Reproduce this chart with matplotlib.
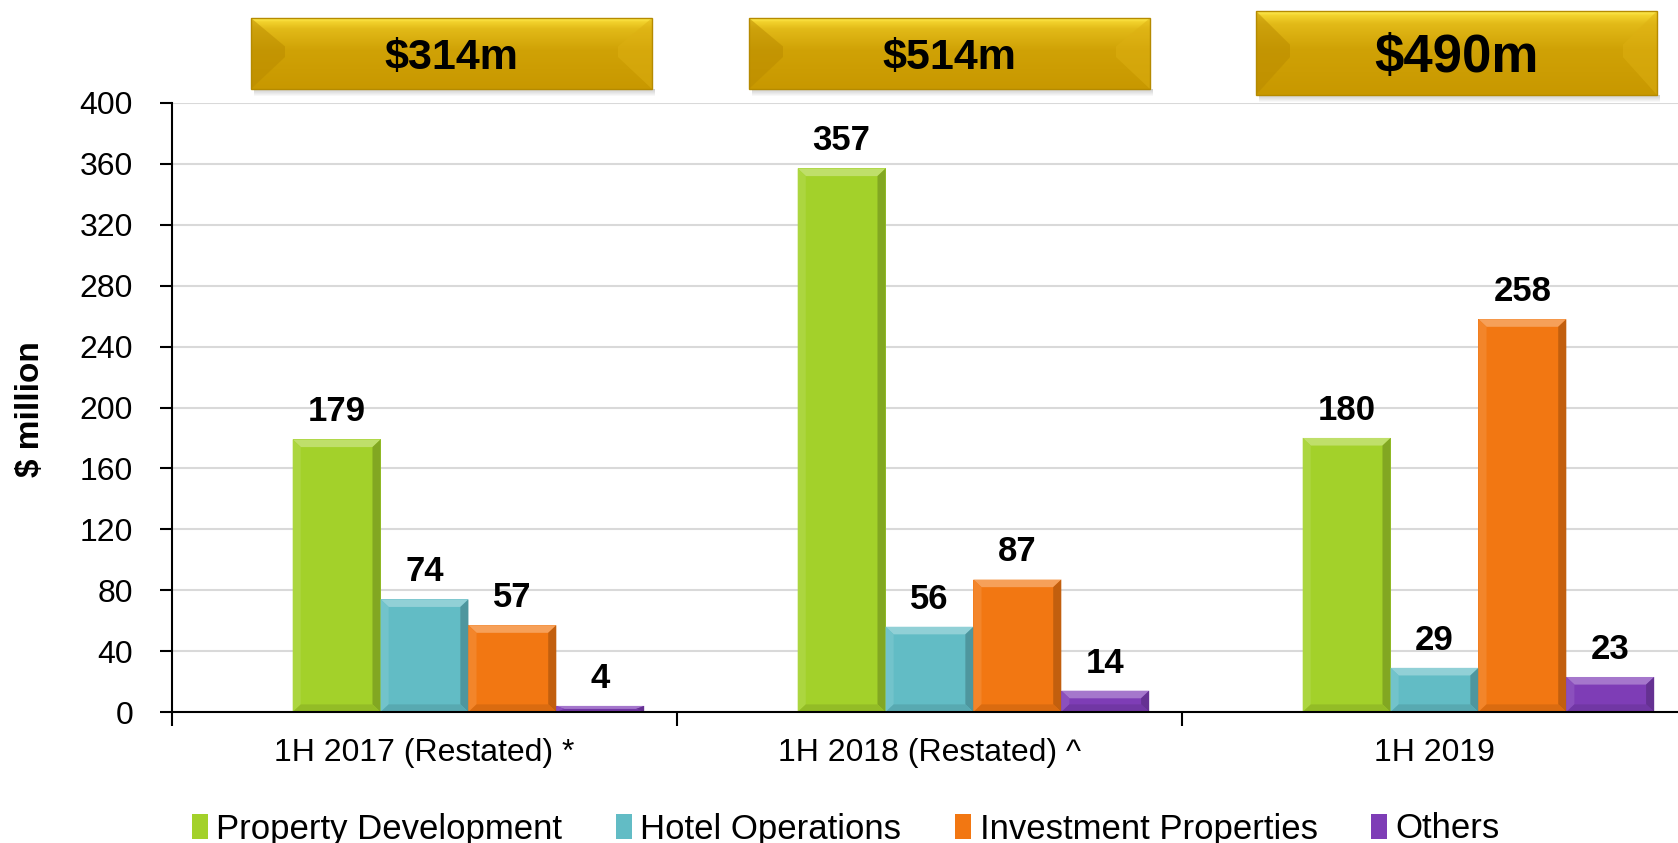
import numpy as np
import matplotlib.pyplot as plt
from matplotlib.patches import Polygon, Rectangle
from matplotlib.colors import to_rgb

plt.rcParams['font.family'] = ['Liberation Sans', 'DejaVu Sans']

# data
categories = ['1H 2017 (Restated) *', '1H 2018 (Restated) ^', '1H 2019']
series = ['Property Development', 'Hotel Operations', 'Investment Properties', 'Others']
property_dev = [179, 357, 180]
hotel_ops = [74, 56, 29]
investment = [57, 87, 258]
others = [4, 14, 23]
totals = [314, 514, 490]
yticks = list(range(0, 401, 40))

colors = ['#A3D12A', '#62BCC5', '#F27712', '#7E3DB6']


def shade(c, f):
    c = np.array(to_rgb(c))
    if f > 0:
        return tuple(c + (1 - c) * f)
    return tuple(c * (1 + f))


def bevel(ax, b, col):
    x0, y0 = b.get_x(), b.get_y()
    x1, y1 = x0 + b.get_width(), y0 + b.get_height()
    bx = 0.016
    by = min(5, (y1 - y0) / 2)
    polys = [
        ([(x0, y1), (x1, y1), (x1 - bx, y1 - by), (x0 + bx, y1 - by)], shade(col, 0.3)),
        ([(x0, y0), (x0, y1), (x0 + bx, y1 - by), (x0 + bx, y0 + by)], shade(col, 0.1)),
        ([(x1, y0), (x1, y1), (x1 - bx, y1 - by), (x1 - bx, y0 + by)], shade(col, -0.2)),
        ([(x0, y0), (x1, y0), (x1 - bx, y0 + by), (x0 + bx, y0 + by)], shade(col, -0.1)),
    ]
    for pts, c in polys:
        ax.add_patch(Polygon(pts, closed=True, facecolor=c, edgecolor='none', zorder=4))


fig = plt.figure(figsize=(16.78, 8.43), dpi=100)
ax = fig.add_axes([172 / 1678, 131 / 843, 1515 / 1678, 609 / 843])

values = [property_dev, hotel_ops, investment, others]
x = np.arange(len(categories))
w = 0.174
# five slots per category, the first one is empty
for i, (vals, col, name) in enumerate(zip(values, colors, series)):
    bars = ax.bar(x + (i - 1) * w, vals, width=w, color=col, label=name,
                  edgecolor='none', zorder=3)
    for b, v in zip(bars, vals):
        bevel(ax, b, col)
        ax.annotate(str(v), (b.get_x() + b.get_width() / 2, v), xytext=(0, 8),
                    textcoords='offset points', ha='center', va='bottom',
                    fontsize=25, fontweight='bold', zorder=5)

ax.set_xlim(-0.5, 2.5)
ax.set_ylim(0, 400)
ax.set_yticks(yticks)
ax.set_xticks(x, categories)
ax.set_xticks([-0.5, 0.5, 1.5, 2.5], minor=True)
ax.tick_params(axis='x', which='major', length=0, pad=19, labelsize=23)
ax.tick_params(axis='x', which='minor', length=10, width=1.5, direction='out')
ax.tick_params(axis='y', length=9, width=1.5, pad=19, labelsize=23)
ax.yaxis.grid(True, color='#D9D9D9', lw=1.5)
ax.set_axisbelow(True)
for s in ['top', 'right']:
    ax.spines[s].set_visible(False)
for s in ['left', 'bottom']:
    ax.spines[s].set_linewidth(1.5)
    ax.spines[s].set_zorder(6)

fig.text(30 / 1678, 1 - 409 / 843, '$ million', rotation=90, ha='center', va='center',
         fontsize=24, fontweight='bold')

fig.legend(loc='center', bbox_to_anchor=(846 / 1678, 1 - 829 / 843), ncol=4,
           frameon=False, fontsize=25, handlelength=0.45, handleheight=0.75,
           handletextpad=0.25, columnspacing=1.55)

# gold banners with totals
bax = fig.add_axes([0, 0, 1, 1], zorder=5)
bax.set_xlim(0, 1678)
bax.set_ylim(843, 0)
bax.axis('off')
boxes = [(251, 18, 652, 89), (749, 18, 1150, 89), (1256, 11, 1657, 95)]
banner_sizes = [31, 31, 38]
stops = [0.0, 0.05, 0.15, 0.45, 1.0]
stop_cols = np.array([to_rgb(c) for c in ['#FFEE55', '#F2D22C', '#E2BA18', '#D0A206', '#C89800']])
for (x0, y0, x1, y1), t, fs in zip(boxes, totals, banner_sizes):
    for k in range(7):
        bax.add_patch(Rectangle((x0 + 3, y1 + k), x1 - x0, 1, facecolor='#555555',
                                alpha=0.28 * (1 - k / 7), edgecolor='none'))
    yy = np.linspace(0, 1, 100)
    grad = np.stack([np.interp(yy, stops, stop_cols[:, j]) for j in range(3)], axis=-1)
    bax.imshow(grad[:, None, :], extent=(x0, x1, y1, y0), aspect='auto', zorder=2)
    h = y1 - y0
    d = 34
    bax.add_patch(Polygon([(x0, y0), (x0 + d, y0 + 0.4 * h), (x0 + d, y1 - 0.45 * h), (x0, y1)],
                          facecolor='#B98A00', alpha=0.5, edgecolor='none', zorder=3))
    bax.add_patch(Polygon([(x1, y0), (x1 - d, y0 + 0.4 * h), (x1 - d, y1 - 0.45 * h), (x1, y1)],
                          facecolor='#DDB012', alpha=0.5, edgecolor='none', zorder=3))
    bax.add_patch(Rectangle((x0, y0), x1 - x0, h, facecolor='none', edgecolor='#B58A00',
                            lw=1, zorder=4))
    bax.text((x0 + x1) / 2, (y0 + y1) / 2 + 5, f'${t}m', ha='center', va='center',
             fontsize=fs, fontweight='bold', zorder=5)
bax.set_xlim(0, 1678)
bax.set_ylim(843, 0)

fig.savefig('out.png', dpi=100)
